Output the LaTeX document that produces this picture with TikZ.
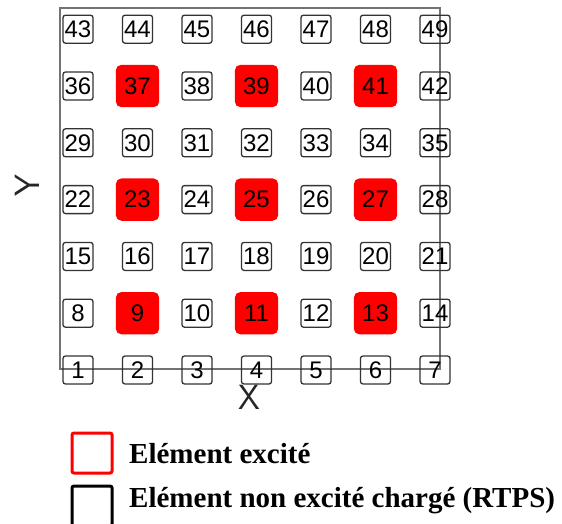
\documentclass[tikz,border=0pt]{standalone}
\usepackage{fontspec}
\setmainfont{Liberation Serif}
\newfontfamily\numfont{Liberation Sans}
\begin{document}
\begin{tikzpicture}[x=1pt,y=-1pt,
  cell/.style={draw=black!80, line width=1.3pt, rounded corners=2.5pt,
    minimum width=30pt, minimum height=28pt, inner sep=0pt,
    font=\numfont\fontsize{24}{24}\selectfont},
  exc/.style={cell, fill=red, draw=red, rounded corners=5pt,
    minimum width=42pt, minimum height=41pt},
  axlab/.style={font=\sffamily\fontsize{35}{35}\selectfont, text=black!85, inner sep=0pt},
  frame/.style={draw=black!55, line width=2pt},
  legbox/.style={line width=3pt, rounded corners=2pt, minimum size=40pt, inner sep=0pt},
  legtext/.style={anchor=base west, inner sep=0pt, font=\bfseries\fontsize{29}{29}\selectfont}]
\useasboundingbox (0,0) rectangle (562,524);
% axes frame
\coordinate (fa) at (60,8);
\coordinate (fb) at (440,369);
\draw[frame] (fa) rectangle (fb);
% axis labels
\node[axlab] (xl) at (249,397) {X};
\node[axlab, rotate=90] (yl) at (27,186) {Y};
% elements
\foreach \r in {1,...,7}{
  \foreach \c in {1,...,7}{
    \pgfmathtruncatemacro{\n}{(\r-1)*7+\c}
    \pgfmathsetmacro{\px}{78+59.5*(\c-1)}
    \pgfmathsetmacro{\py}{370-56.8*(\r-1)}
    \pgfmathtruncatemacro{\ex}{(mod(\r,2)==0) && (mod(\c,2)==0)}
    \ifnum\ex=1
      \node[exc] (e\n) at (\px,\py) {\n};
    \else
      \node[cell] (e\n) at (\px,\py) {\n};
    \fi
  }
}
% legend
\node[legbox, draw=red] (lr) at (92,453) {};
\node[legbox, draw=black] (lb) at (92,506) {};
\node[legtext] (tr) at (129,463) {Elément excité};
\node[legtext] (tb) at (129,507) {Elément non excité chargé (RTPS)};
\end{tikzpicture}
\end{document}
